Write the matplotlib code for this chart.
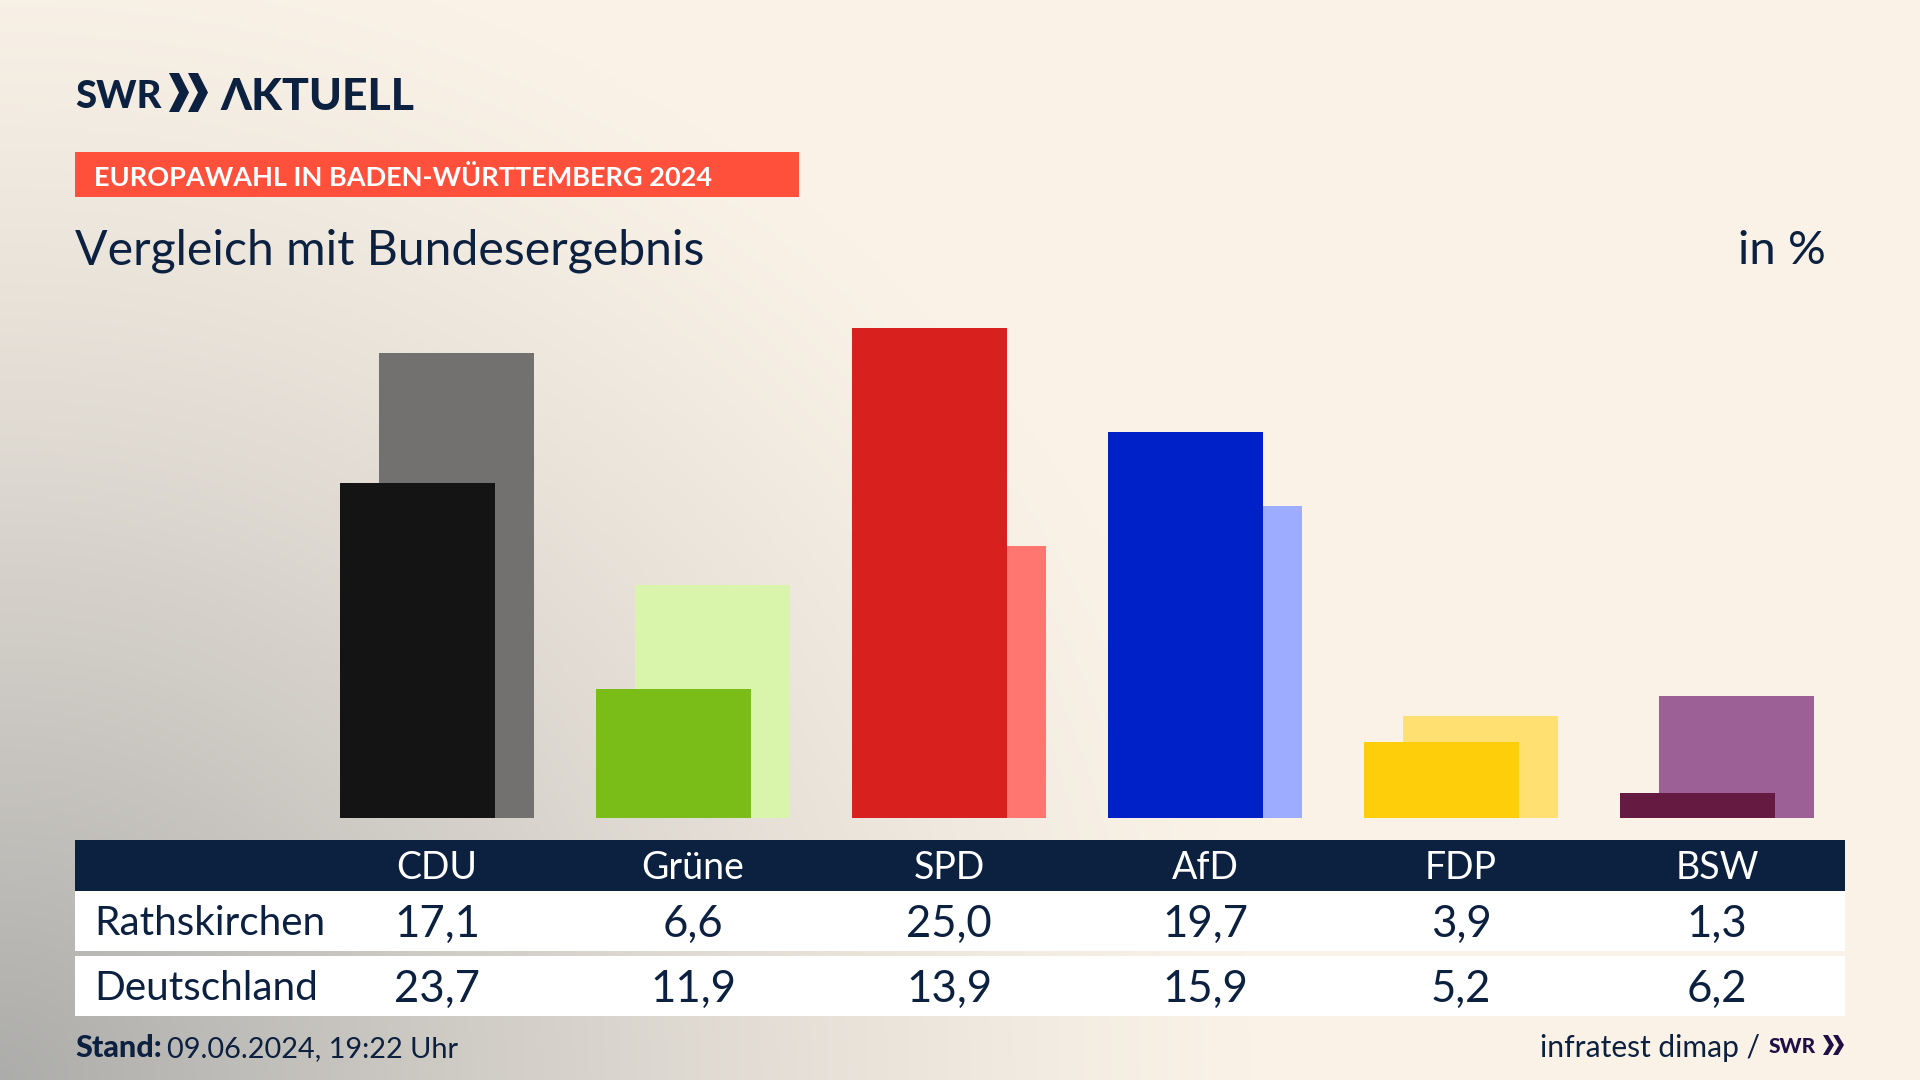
import matplotlib
matplotlib.use('Agg')
import matplotlib.pyplot as plt
from matplotlib.patches import Polygon, Rectangle
import numpy as np

# === data ===
parties = ['CDU', 'Grüne', 'SPD', 'AfD', 'FDP', 'BSW']
rathskirchen = [17.1, 6.6, 25.0, 19.7, 3.9, 1.3]
deutschland = [23.7, 11.9, 13.9, 15.9, 5.2, 6.2]
front_colors = ['#141414', '#7ABD19', '#D8201E', '#0020C8', '#FFCE0A', '#651A42']
back_colors = ['#72716F', '#D8F5AB', '#FF7670', '#9EACFF', '#FFE070', '#9C6097']
row_names = ['Rathskirchen', 'Deutschland']

NAVY = '#0C2040'
CREAM = np.array([250, 242, 231]) / 255
GRAY = np.array([172, 172, 170]) / 255
FONT = 'Lato'
W, H = 1920, 1080

fig = plt.figure(figsize=(W / 100, H / 100), dpi=100)

# background gradient, dark in the lower left corner
bg = fig.add_axes([0, 0, 1, 1], zorder=0)
yy, xx = np.mgrid[0:H, 0:W]
d = np.sqrt((xx / 1250) ** 2 + ((H - yy) / 1150) ** 2)
t = np.clip(1 - d, 0, 1)[..., None] ** 1.3
bg.imshow(CREAM + (GRAY - CREAM) * t, extent=(0, W, H, 0), aspect='auto')
bg.set_xlim(0, W)
bg.set_ylim(H, 0)
bg.axis('off')

# bars, x in party index, y in percent
left, right, top, base = 75, 1845, 300, 818
ax = fig.add_axes([left / W, 1 - base / H, (right - left) / W, (base - top) / H], zorder=1)
ax.patch.set_alpha(0)
x = np.arange(len(parties))
ax.bar(x + 0.0754, deutschland, width=0.605, color=back_colors)
ax.bar(x - 0.0754, rathskirchen, width=0.605, color=front_colors)
ax.set_xlim((left - 437) / 256, (right - 437) / 256)
ax.set_ylim(0, (base - top) / 19.6)
ax.axis('off')

# everything else in pixel coordinates
ov = fig.add_axes([0, 0, 1, 1], zorder=2)
ov.patch.set_alpha(0)
ov.set_xlim(0, W)
ov.set_ylim(H, 0)
ov.axis('off')


def box(x0, y0, x1, y1, color):
    ov.add_patch(Rectangle((x0, y0), x1 - x0, y1 - y0, color=color, lw=0))


def chevrons(x0, y0, y1, w, th, gap, color):
    mid = (y0 + y1) / 2
    for k in range(2):
        a = x0 + k * gap
        ov.add_patch(Polygon([(a, y0), (a + th, y0), (a + w, mid), (a + th, y1), (a, y1), (a + w - th, mid)],
                             closed=True, color=color, lw=0))


# logo
ov.text(75, 108, 'SWR', fontsize=27.5, fontweight='black', family=FONT, color=NAVY, va='baseline')
chevrons(169, 73, 112, 20, 10, 19, NAVY)
ov.text(220, 110, 'ΛKTUELL', fontsize=32, fontweight='black', family=[FONT, 'Noto Sans'], color=NAVY, va='baseline')

# banner and title
box(75, 152, 799, 197, '#FF503C')
ov.text(94, 186, 'EUROPAWAHL IN BADEN-WÜRTTEMBERG 2024', fontsize=19.5, fontweight='bold', family=FONT,
        color='white', va='baseline')
ov.text(75, 264.5, 'Vergleich mit Bundesergebnis', fontsize=34.7, family=FONT, color=NAVY, va='baseline')
ov.text(1826, 264.5, 'in %', fontsize=34, family=FONT, color=NAVY, va='baseline', ha='right')

# table
box(75, 840, 1845, 891, NAVY)
box(75, 891, 1845, 951, 'white')
box(75, 956, 1845, 1016, 'white')
ov.text(94, 935, row_names[0], fontsize=29.2, family=FONT, color=NAVY, va='baseline')
ov.text(94, 1000, row_names[1], fontsize=29.2, family=FONT, color=NAVY, va='baseline')
for i, p in enumerate(parties):
    cx = 437 + 256 * i
    ov.text(cx, 879, p, fontsize=27, family=FONT, color='white', va='baseline', ha='center')
    ov.text(cx, 936.5, f'{rathskirchen[i]:.1f}'.replace('.', ','), fontsize=31.5, family=FONT, color=NAVY,
            va='baseline', ha='center')
    ov.text(cx, 1001.5, f'{deutschland[i]:.1f}'.replace('.', ','), fontsize=31.5, family=FONT, color=NAVY,
            va='baseline', ha='center')

# footer
ov.text(75, 1057, 'Stand:', fontsize=22, fontweight='black', family=FONT, color=NAVY, va='baseline')
ov.text(167, 1057, '09.06.2024, 19:22 Uhr', fontsize=20.8, family=FONT, color=NAVY, va='baseline')
ov.text(1760, 1056.5, 'infratest dimap /', fontsize=21.6, family=FONT, color=NAVY, va='baseline', ha='right')
ov.text(1769, 1053, 'SWR', fontsize=15, fontweight='black', family=FONT, color='#1F0F45', va='baseline')
chevrons(1823, 1035, 1055, 11, 5, 10, '#1F0F45')

fig.savefig('out.png', dpi=100)
